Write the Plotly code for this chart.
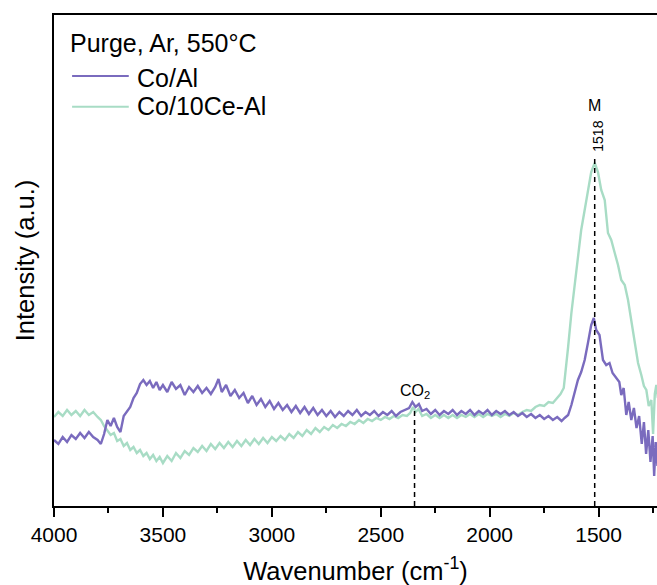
import plotly.graph_objects as go

# ---- data (wavenumber, intensity in arbitrary units) ----
coal_wn = [4000,3980,3960,3940,3920,3900,3880,3860,3840,3820,3800,3785,3770,3755,3740,3725,3710,3695,3680,3665,
           3650,3635,3620,3605,3590,3575,3560,3545,3530,3515,3500,3480,3460,3440,3420,3400,3380,3360,3340,3320,
           3300,3280,3260,3245,3230,3210,3190,3170,3150,3130,3110,3090,3070,3050,3030,3010,2990,2970,2950,2930,
           2910,2890,2870,2850,2830,2810,2790,2770,2750,2730,2710,2690,2670,2650,2630,2610,2590,2570,2550,2530,
           2510,2490,2470,2450,2430,2410,2390,2370,2355,2340,2325,2310,2290,2270,2250,2230,2210,2190,2170,2150,
           2130,2110,2090,2070,2050,2030,2010,1990,1970,1950,1930,1910,1890,1870,1850,1830,1810,1790,1770,1750,
           1730,1710,1690,1670,1656,1640,1625,1610,1595,1580,1564,1549,1534,1522,1511,1496,1480,1465,1450,1436,
           1420,1405,1396,1385,1373,1362,1350,1338,1326,1314,1302,1292,1282,1272,1262,1252,1245,1238,1230,1225]
coal_int = [66,62,69,64,71,67,73,68,74,69,66,62,72,86,80,88,79,74,90,95,
            99,108,113,122,126,121,125,118,124,116,121,114,124,117,121,111,119,114,120,113,
            118,112,119,127,114,121,110,116,108,113,103,110,101,107,99,105,97,103,96,101,
            94,100,93,99,92,98,91,96,90,95,89,94,90,95,91,96,90,94,91,95,
            90,94,91,95,90,94,96,98,104,99,102,95,97,92,96,91,95,92,96,91,
            95,92,96,91,95,92,96,91,95,92,95,91,94,90,93,89,92,88,91,87,
            90,86,89,85,88,91,101,113,126,134,146,163,181,188,176,171,146,141,143,133,
            128,124,111,118,91,104,86,98,78,90,62,84,52,76,44,70,30,64,40,70]

coce_wn = [4000,3980,3960,3940,3920,3900,3880,3860,3840,3820,3800,3785,3770,3755,3740,3725,3710,3695,3680,3665,
           3650,3635,3620,3605,3590,3575,3560,3545,3530,3515,3500,3480,3460,3440,3420,3400,3380,3360,3340,3320,
           3300,3280,3260,3240,3220,3200,3180,3160,3140,3120,3100,3080,3060,3040,3020,3000,2980,2960,2940,2920,
           2900,2880,2860,2840,2820,2800,2780,2760,2740,2720,2700,2680,2660,2640,2620,2600,2580,2560,2540,2520,
           2500,2480,2460,2440,2420,2400,2380,2365,2352,2340,2327,2310,2290,2270,2250,2230,2210,2190,2170,2150,
           2130,2110,2090,2070,2050,2030,2010,1990,1970,1950,1930,1910,1890,1870,1850,1830,1810,1790,1770,1750,
           1730,1710,1690,1675,1660,1648,1640,1625,1610,1595,1580,1564,1549,1534,1518,1503,1488,1472,1457,1442,
           1426,1411,1396,1380,1365,1350,1334,1319,1304,1292,1281,1270,1258,1250,1242,1235,1228]
coce_int = [89,94,90,96,91,95,90,96,91,94,89,86,80,75,71,73,65,67,60,63,
            56,59,53,56,50,53,47,51,45,49,43,50,45,53,48,55,51,58,54,60,
            55,62,57,63,58,64,59,65,60,66,61,67,62,68,63,69,65,70,66,72,
            68,74,70,76,72,78,74,79,76,81,78,82,80,84,82,86,83,87,85,88,
            86,89,87,90,88,91,90,93,99,94,97,90,92,88,91,88,91,88,91,88,
            91,89,92,89,92,89,92,90,92,89,92,90,93,91,94,96,95,99,101,100,
            104,103,108,112,118,140,159,193,219,249,276,296,316,334,343,334,316,306,273,266,
            253,241,226,221,206,186,166,143,131,120,116,100,106,72,112,121,108]

series_names = ["Co/Al", "Co/10Ce-Al"]
series_colors = ["#7A6BBE", "#A8DCC5"]
legend_title = "Purge, Ar, 550°C"

x_ticks = [4000, 3500, 3000, 2500, 2000, 1500]
x_range = [4000, 1232]
y_range = [0, 491]

# marker lines: position, top of dashed line (intensity)
co2_pos, co2_top = 2345, 99
m_pos, m_top = 1518, 348

FONT = "Liberation Sans, Arial, sans-serif"

fig = go.Figure()
fig.add_trace(go.Scatter(x=coce_wn, y=coce_int, mode="lines", name=series_names[1],
                         line=dict(color=series_colors[1], width=2.4)))
fig.add_trace(go.Scatter(x=coal_wn, y=coal_int, mode="lines", name=series_names[0],
                         line=dict(color=series_colors[0], width=2.4)))

shapes = [
    dict(type="line", xref="x", yref="y", x0=co2_pos, x1=co2_pos, y0=0, y1=co2_top,
         line=dict(color="black", width=1.5, dash="5px,4px")),
    dict(type="line", xref="x", yref="y", x0=m_pos, x1=m_pos, y0=0, y1=m_top,
         line=dict(color="black", width=1.5, dash="5px,4px")),
    # manual legend samples
    dict(type="line", xref="paper", yref="paper", x0=0.030, x1=0.124, y0=0.876, y1=0.876,
         line=dict(color=series_colors[0], width=2)),
    dict(type="line", xref="paper", yref="paper", x0=0.030, x1=0.124, y0=0.813, y1=0.813,
         line=dict(color=series_colors[1], width=2)),
]

annotations = [
    dict(text="CO<sub>2</sub>", x=co2_pos, y=115, xref="x", yref="y", showarrow=False,
         font=dict(family=FONT, size=16, color="black"), xanchor="center", yanchor="middle"),
    dict(text="M", x=m_pos, y=401, xref="x", yref="y", showarrow=False,
         font=dict(family=FONT, size=16, color="black"), xanchor="center", yanchor="middle"),
    dict(text=str(m_pos), x=m_pos, y=370, xref="x", yref="y", showarrow=False, textangle=-90,
         xshift=3, font=dict(family=FONT, size=14, color="black"), xanchor="center", yanchor="middle"),
    dict(text=legend_title, x=0.024, y=0.943, xref="paper", yref="paper", showarrow=False,
         font=dict(family=FONT, size=25, color="black"), xanchor="left", yanchor="middle"),
    dict(text=series_names[0], x=0.134, y=0.872, xref="paper", yref="paper", showarrow=False,
         font=dict(family=FONT, size=25, color="black"), xanchor="left", yanchor="middle"),
    dict(text=series_names[1], x=0.134, y=0.815, xref="paper", yref="paper", showarrow=False,
         font=dict(family=FONT, size=25, color="black"), xanchor="left", yanchor="middle"),
]

fig.update_layout(
    width=657, height=585,
    margin=dict(l=54, r=0, t=15, b=79),
    paper_bgcolor="white", plot_bgcolor="white",
    showlegend=False,
    shapes=shapes, annotations=annotations,
    font=dict(family=FONT, color="black"),
    xaxis=dict(range=x_range, tickvals=x_ticks, ticks="outside", ticklen=9, tickwidth=1.5,
               tickcolor="black", showline=True, linewidth=1.5, linecolor="black", mirror=True,
               showgrid=False, zeroline=False, tickfont=dict(family=FONT, size=21),
               minor=dict(dtick=250, tick0=4000, ticks="outside", ticklen=5, tickwidth=1.5,
                          tickcolor="black", showgrid=False),
               title=dict(text="Wavenumber (cm<sup>-1</sup>)", font=dict(family=FONT, size=25.5), standoff=18)),
    yaxis=dict(range=y_range, showticklabels=False, ticks="", showline=True, linewidth=1.5,
               linecolor="black", showgrid=False, zeroline=False,
               title=dict(text="Intensity (a.u.)", font=dict(family=FONT, size=25.5), standoff=10)),
)

fig.write_html("out.html")
